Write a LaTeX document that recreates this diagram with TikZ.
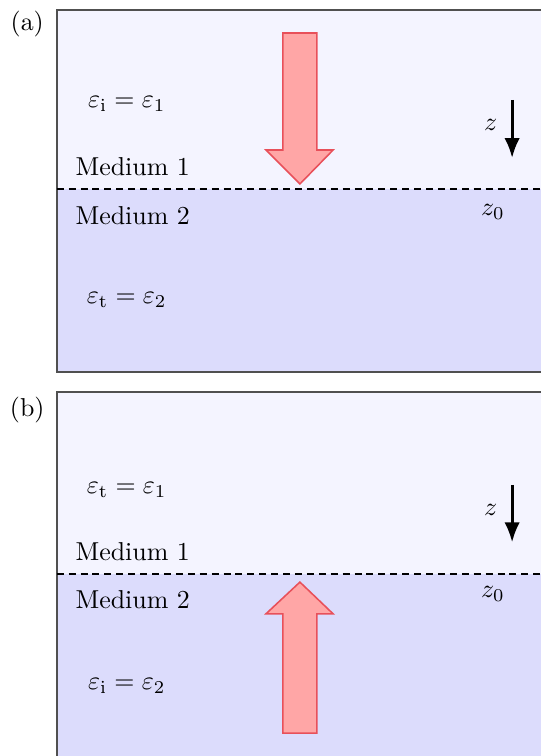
\documentclass[tikz,border=0pt]{standalone}
\usetikzlibrary{arrows.meta}
\definecolor{bgTop}{HTML}{F4F4FF}
\definecolor{bgBottom}{HTML}{DCDCFC}
\definecolor{borderGray}{HTML}{505050}
\definecolor{beamFill}{HTML}{FFA6A6}
\definecolor{beamBorder}{HTML}{E8505A}

\begin{document}
\begin{tikzpicture}[
    >={Latex[length=2.7mm, width=2.1mm]},
    medium/.style={draw=borderGray, line width=0.6pt},
    interface/.style={dash pattern=on 2.7pt off 1.9pt, line width=0.7pt},
    beam/.style={fill=beamFill, draw=beamBorder, line width=0.6pt, line join=miter},
    axis/.style={->, line width=1.1pt},
    textLabel/.style={inner sep=0pt},
    mediumLabel/.style={inner sep=0pt, anchor=west}
]
\useasboundingbox (0,0) rectangle (7.34,-10.26);
\clip (0,0) rectangle (7.34,-10.26);

% panel (a)
\fill[bgTop] (0.77,-0.136) rectangle (7.5,-2.565);
\fill[bgBottom] (0.77,-2.565) rectangle (7.5,-5.05);
\draw[medium] (7.5,-0.136) -- (0.77,-0.136) -- (0.77,-5.05) -- (7.5,-5.05);
\draw[interface] (0.77,-2.565) -- (7.5,-2.565);

\draw[beam] (3.84,-0.448) -- (4.30,-0.448) -- (4.30,-2.036) -- (4.52,-2.036)
    -- (4.07,-2.497) -- (3.61,-2.036) -- (3.84,-2.036) -- cycle;

\node[textLabel] (tagA) at (0.37,-0.32) {(a)};
\node[textLabel] (epsA1) at (1.72,-1.41) {$\varepsilon_{\mathrm{i}}=\varepsilon_1$};
\node[mediumLabel] (medA1) at (1.018,-2.266) {Medium 1};
\node[mediumLabel] (medA2) at (1.018,-2.93) {Medium 2};
\node[textLabel] (epsA2) at (1.72,-4.07) {$\varepsilon_{\mathrm{t}}=\varepsilon_2$};

\coordinate (zStartA) at (6.95,-1.357);
\coordinate (zEndA) at (6.95,-2.144);
\draw[axis] (zStartA) -- (zEndA);
\node[textLabel] (zA) at (6.66,-1.70) {$z$};
\node[textLabel] (zZeroA) at (6.69,-2.88) {$z_0$};

% panel (b)
\fill[bgTop] (0.77,-5.32) rectangle (7.5,-7.79);
\fill[bgBottom] (0.77,-7.79) rectangle (7.5,-10.5);
\draw[medium] (7.5,-5.32) -- (0.77,-5.32) -- (0.77,-10.5);
\draw[interface] (0.77,-7.79) -- (7.5,-7.79);

\draw[beam] (3.84,-9.95) -- (4.30,-9.95) -- (4.30,-8.33) -- (4.52,-8.33)
    -- (4.07,-7.90) -- (3.61,-8.33) -- (3.84,-8.33) -- cycle;

\node[textLabel] (tagB) at (0.37,-5.56) {(b)};
\node[textLabel] (epsB1) at (1.72,-6.65) {$\varepsilon_{\mathrm{t}}=\varepsilon_1$};
\node[mediumLabel] (medB1) at (1.018,-7.48) {Medium 1};
\node[mediumLabel] (medB2) at (1.018,-8.14) {Medium 2};
\node[textLabel] (epsB2) at (1.72,-9.31) {$\varepsilon_{\mathrm{i}}=\varepsilon_2$};

\coordinate (zStartB) at (6.95,-6.58);
\coordinate (zEndB) at (6.95,-7.36);
\draw[axis] (zStartB) -- (zEndB);
\node[textLabel] (zB) at (6.66,-6.92) {$z$};
\node[textLabel] (zZeroB) at (6.69,-8.06) {$z_0$};

\end{tikzpicture}
\end{document}
